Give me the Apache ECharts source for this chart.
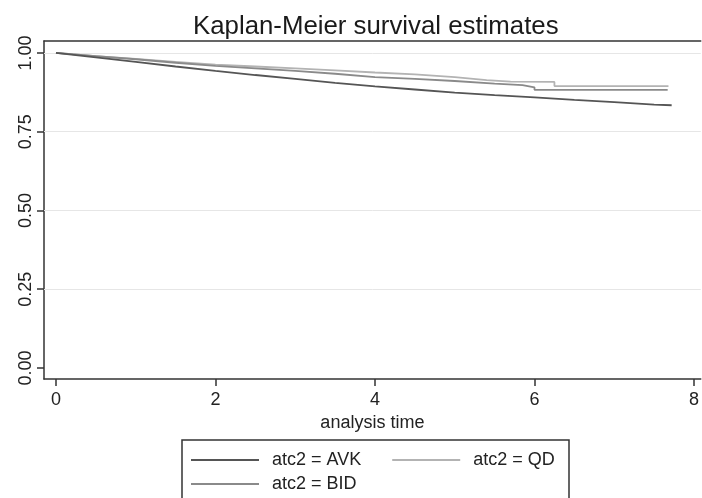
<!DOCTYPE html>
<html>
<head>
<meta charset="utf-8">
<script src="https://cdn.jsdelivr.net/npm/echarts@6/dist/echarts.min.js"></script>
<style>html,body{margin:0;padding:0;background:#fff}#c{width:702px;height:498px}</style>
</head>
<body>
<div id="c"></div>
<script>
// Data: [analysis time, survival]
var avk = [[0,1.000],[0.5,0.986],[1,0.972],[1.5,0.957],[2,0.943],[2.5,0.930],[3,0.918],[3.5,0.905],[4,0.894],[4.5,0.884],[5,0.874],[5.5,0.866],[6,0.859],[6.5,0.851],[7,0.844],[7.5,0.836],[7.72,0.834]];
var qd  = [[0,1.000],[0.5,0.990],[1,0.981],[1.5,0.972],[2,0.963],[2.5,0.957],[3,0.951],[3.5,0.945],[4,0.938],[4.5,0.932],[5,0.923],[5.4,0.914],[5.7,0.909],[6.25,0.908],[6.25,0.895],[7.68,0.895]];
var bid = [[0,1.000],[0.5,0.990],[1,0.980],[1.5,0.969],[2,0.959],[2.5,0.951],[3,0.943],[3.5,0.934],[4,0.923],[4.5,0.918],[5,0.911],[5.5,0.903],[5.85,0.898],[6.0,0.891],[6.0,0.883],[7.67,0.883]];
var seriesNames = ['atc2 = AVK', 'atc2 = QD', 'atc2 = BID'];
var xTicks = [0, 2, 4, 6, 8];
var yTicks = [0, 0.25, 0.5, 0.75, 1];
var gridValues = [0.25, 0.5, 0.75, 1];

var chart = echarts.init(document.getElementById('c'), null, {renderer: 'canvas'});
var font = 'Liberation Sans, Arial, Helvetica, sans-serif';
var axisLineStyle = {color: '#333', width: 1.5};
var option = {
  backgroundColor: '#fff',
  animation: false,
  title: {
    text: 'Kaplan-Meier survival estimates',
    left: 188, top: 9,
    textStyle: {fontFamily: font, fontSize: 25.8, fontWeight: 'normal', color: '#1a1a1a'}
  },
  grid: {left: 44, top: 41, right: 0, height: 338, show: false},
  xAxis: [{
    type: 'value', min: -0.15, max: 8.085, position: 'bottom',
    name: 'analysis time', nameLocation: 'middle', nameGap: 27,
    nameTextStyle: {fontFamily: font, fontSize: 18, color: '#222'},
    axisLine: {show: true, onZero: false, lineStyle: axisLineStyle},
    axisTick: {show: true, length: 7, customValues: xTicks, lineStyle: axisLineStyle},
    axisLabel: {customValues: xTicks, margin: 12, fontFamily: font, fontSize: 18, color: '#222'},
    splitLine: {show: false}
  }, {
    type: 'value', min: -0.15, max: 8.085, position: 'top',
    axisLine: {show: true, onZero: false, lineStyle: axisLineStyle},
    axisTick: {show: false}, axisLabel: {show: false}, splitLine: {show: false}
  }],
  yAxis: {
    type: 'value', min: -0.035, max: 1.038,
    axisLine: {show: true, onZero: false, lineStyle: axisLineStyle},
    axisTick: {show: true, length: 7, customValues: yTicks, lineStyle: axisLineStyle},
    axisLabel: {customValues: yTicks, rotate: 90, margin: 9, fontFamily: font, fontSize: 18, color: '#222',
      formatter: function (v) { return v.toFixed(2); }},
    splitLine: {show: false}
  },
  legend: [
    {data: [seriesNames[0], seriesNames[1]], left: 186, top: 446, orient: 'horizontal', icon: 'rect',
     itemWidth: 68, itemHeight: 2, itemGap: 31,
     textStyle: {fontFamily: font, fontSize: 18, color: '#222', padding: [0, 0, 0, 8]}},
    {data: [seriesNames[2]], left: 186, top: 470, orient: 'horizontal', icon: 'rect',
     itemWidth: 68, itemHeight: 2,
     textStyle: {fontFamily: font, fontSize: 18, color: '#222', padding: [0, 0, 0, 8]}}
  ],
  graphic: [{type: 'rect', shape: {x: 182, y: 440, width: 387, height: 80}, style: {fill: 'none', stroke: '#333', lineWidth: 1.5}, silent: true}],
  series: [
    {name: seriesNames[0], type: 'line', data: avk, showSymbol: false, symbol: 'none', z: 4,
     color: '#555', lineStyle: {color: '#555', width: 1.8},
     markLine: {silent: true, symbol: 'none', z: 1, label: {show: false},
       lineStyle: {color: '#e6e6e6', width: 1, type: 'solid'},
       data: gridValues.map(function (v) { return {yAxis: v}; })}},
    {name: seriesNames[1], type: 'line', data: qd, showSymbol: false, symbol: 'none', z: 3,
     color: '#b3b3b3', lineStyle: {color: '#b3b3b3', width: 1.8}},
    {name: seriesNames[2], type: 'line', data: bid, showSymbol: false, symbol: 'none', z: 3,
     color: '#8a8a8a', lineStyle: {color: '#8a8a8a', width: 1.8}}
  ]
};
chart.setOption(option);
</script>
</body>
</html>
